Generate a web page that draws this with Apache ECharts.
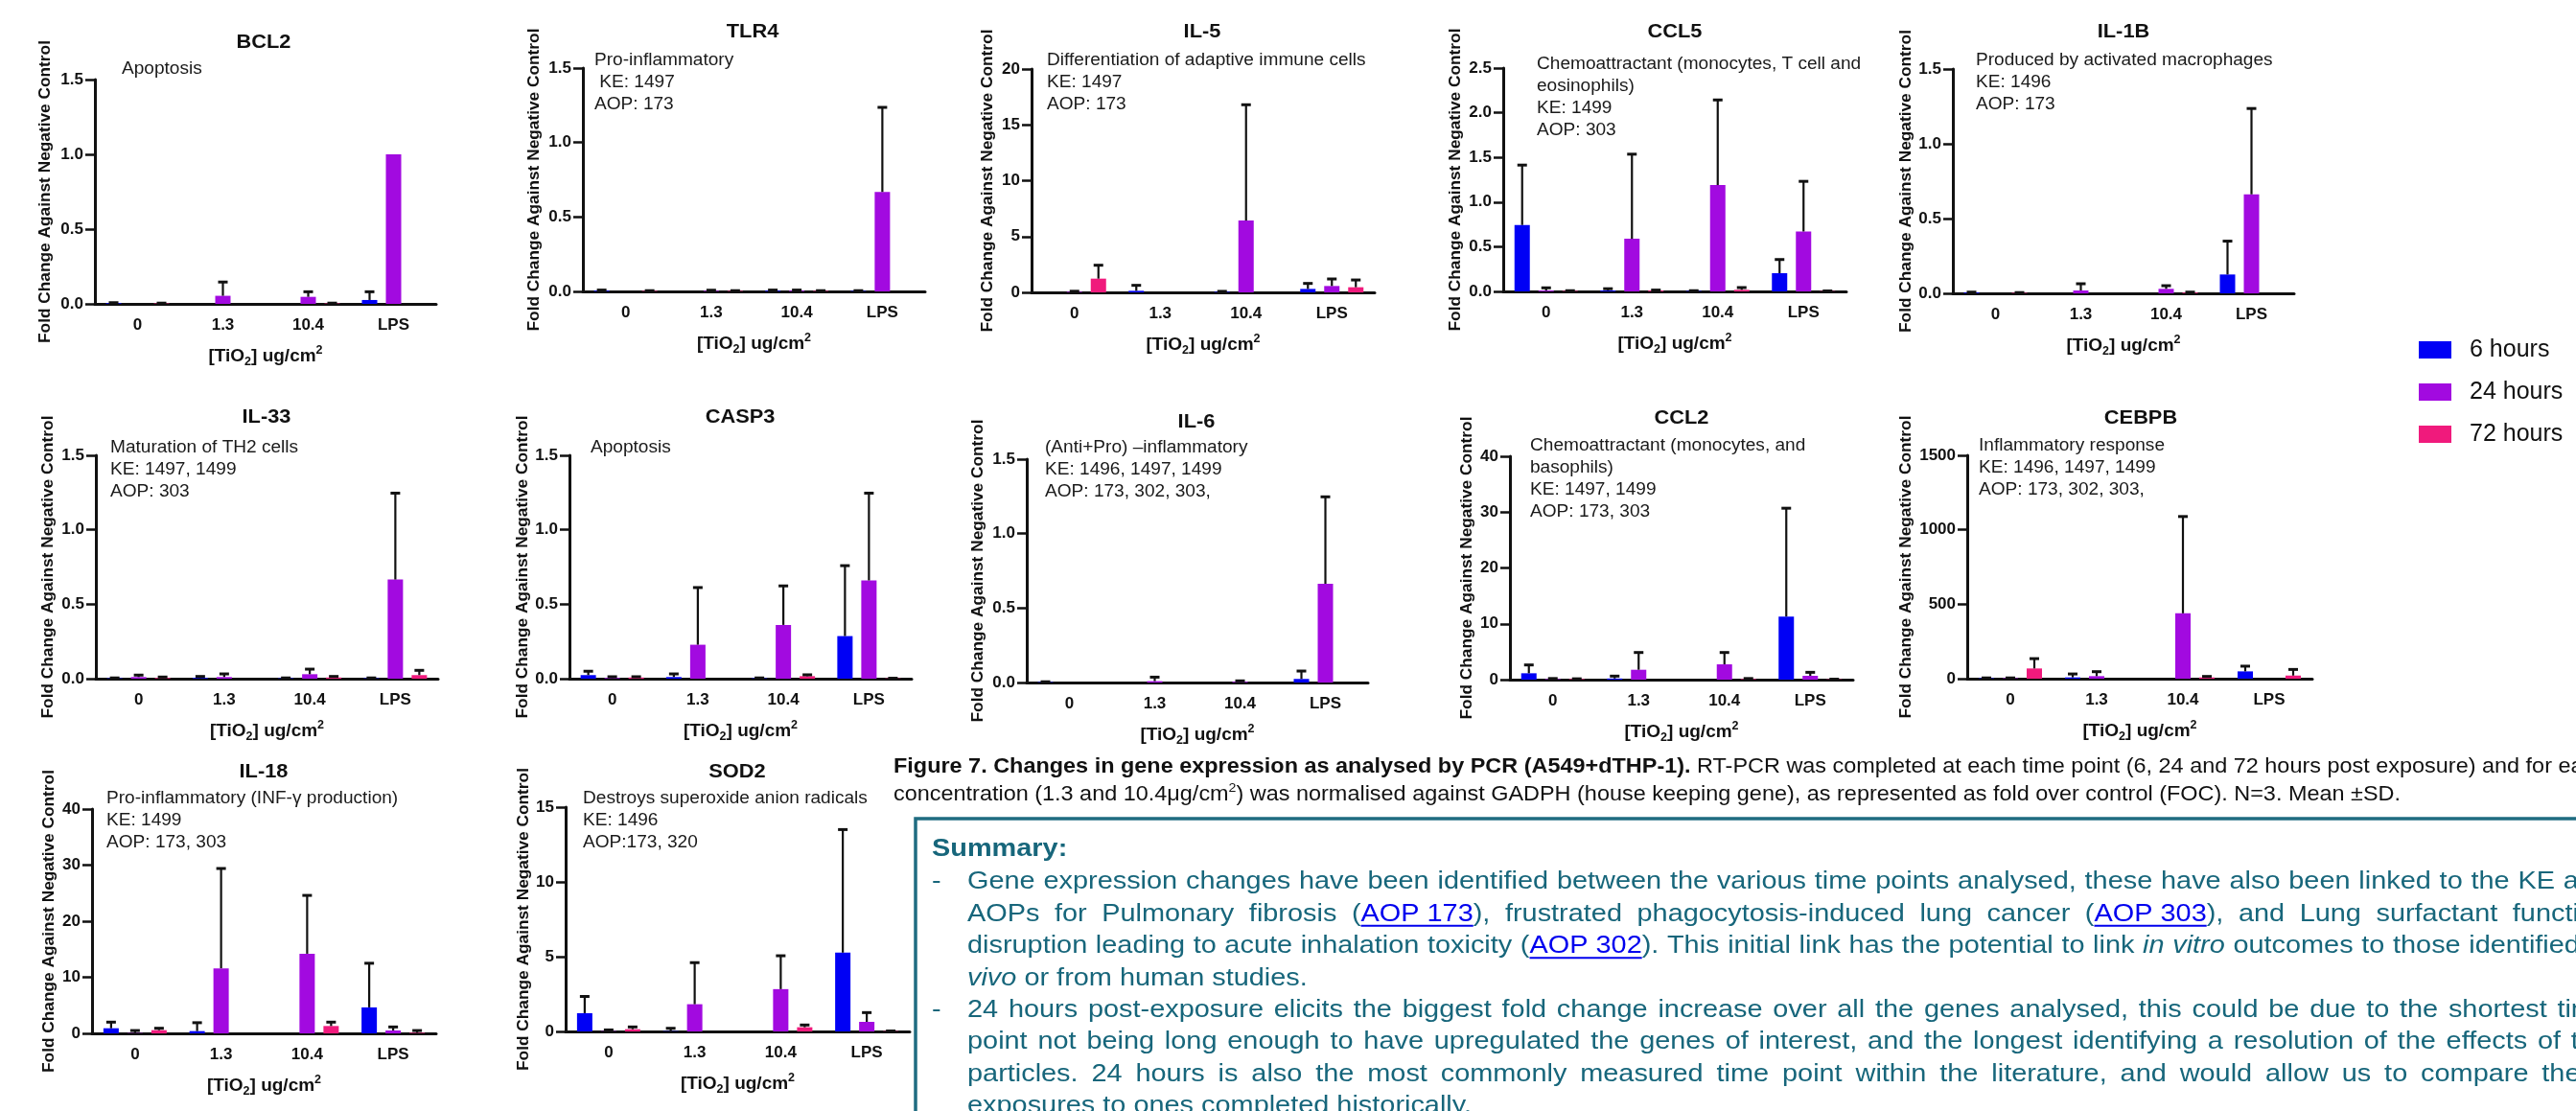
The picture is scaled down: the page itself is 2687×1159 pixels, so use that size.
<!DOCTYPE html>
<html><head><meta charset="utf-8">
<script src="https://cdn.jsdelivr.net/npm/echarts@6/dist/echarts.min.js"></script>
<style>html,body{margin:0;padding:0;background:#fff;} #c{width:2687px;height:1159px;}</style>
</head><body><div id="c"></div>
<script>
// ---------------- DATA ----------------
const categories = ['0', '1.3', '10.4', 'LPS'];
const timeNames = ['6 hours', '24 hours', '72 hours'];
const geneNames = ['BCL2','TLR4','IL-5','CCL5','IL-1B','IL-33','CASP3','IL-6','CCL2','CEBPB','IL-18','SOD2'];
const yMax = [1.5, 1.5, 20, 2.5, 1.5, 1.5, 1.5, 1.5, 40, 1500, 40, 15];
const yStep = [0.5, 0.5, 5, 0.5, 0.5, 0.5, 0.5, 0.5, 10, 500, 10, 5];
const yDecimals = [1, 1, 0, 1, 1, 1, 1, 1, 0, 0, 0, 0];
const yAxisTitle = 'Fold Change Against Negative Control';

const notes_BCL2 = ['Apoptosis'];
const notes_TLR4 = ['Pro-inflammatory', ' KE: 1497', 'AOP: 173'];
const notes_IL5 = ['Differentiation of adaptive immune cells', 'KE: 1497', 'AOP: 173'];
const notes_CCL5 = ['Chemoattractant (monocytes, T cell and', 'eosinophils)', 'KE: 1499', 'AOP: 303'];
const notes_IL1B = ['Produced by activated macrophages', 'KE: 1496', 'AOP: 173'];
const notes_IL33 = ['Maturation of TH2 cells', 'KE: 1497, 1499', 'AOP: 303'];
const notes_CASP3 = ['Apoptosis'];
const notes_IL6 = ['(Anti+Pro) \u2013inflammatory', 'KE: 1496, 1497, 1499', 'AOP: 173, 302, 303,'];
const notes_CCL2 = ['Chemoattractant (monocytes, and', 'basophils)', 'KE: 1497, 1499', 'AOP: 173, 303'];
const notes_CEBPB = ['Inflammatory response', 'KE: 1496, 1497, 1499', 'AOP: 173, 302, 303,'];
const notes_IL18 = ['Pro-inflammatory (INF-\u03b3 production)', 'KE: 1499', 'AOP: 173, 303'];
const notes_SOD2 = ['Destroys superoxide anion radicals', 'KE: 1496', 'AOP:173, 320'];

const bcl2_6h = [0.005, 0, 0, 0.026];      const bcl2_6h_sd = [0.003, 0, 0, 0.055];
const bcl2_24h = [0, 0.054, 0.047, 1.0];   const bcl2_24h_sd = [0, 0.092, 0.034, 0];
const bcl2_72h = [0.003, 0, 0.003, 0];     const bcl2_72h_sd = [0.002, 0, 0.002, 0];

const tlr4_6h = [0.005, 0, 0.005, 0.003];  const tlr4_6h_sd = [0.004, 0, 0.004, 0.002];
const tlr4_24h = [0, 0.004, 0.005, 0.668]; const tlr4_24h_sd = [0, 0.004, 0.004, 0.568];
const tlr4_72h = [0.003, 0.003, 0.003, 0]; const tlr4_72h_sd = [0.002, 0.002, 0.002, 0];

const il5_6h = [0, 0.14, 0.05, 0.31];      const il5_6h_sd = [0, 0.49, 0.04, 0.49];
const il5_24h = [0.05, 0, 6.43, 0.57];     const il5_24h_sd = [0.05, 0, 10.37, 0.63];
const il5_72h = [1.23, 0, 0, 0.46];        const il5_72h_sd = [1.2, 0, 0, 0.65];

const ccl5_6h = [0.743, 0.01, 0.005, 0.204]; const ccl5_6h_sd = [0.671, 0.02, 0.003, 0.153];
const ccl5_24h = [0.01, 0.589, 1.19, 0.671]; const ccl5_24h_sd = [0.03, 0.947, 0.953, 0.561];
const ccl5_72h = [0.005, 0.01, 0.018, 0.003]; const ccl5_72h_sd = [0.003, 0.005, 0.025, 0.002];

const il1b_6h = [0.005, 0, 0, 0.126];      const il1b_6h_sd = [0.003, 0, 0, 0.223];
const il1b_24h = [0, 0.019, 0.03, 0.662];  const il1b_24h_sd = [0, 0.045, 0.021, 0.574];
const il1b_72h = [0.003, 0, 0.005, 0];     const il1b_72h_sd = [0.002, 0, 0.003, 0];

const il33_6h = [0.003, 0.005, 0.003, 0.003]; const il33_6h_sd = [0.002, 0.01, 0.002, 0.002];
const il33_24h = [0.011, 0.011, 0.03, 0.666]; const il33_24h_sd = [0.013, 0.021, 0.034, 0.58];
const il33_72h = [0.005, 0, 0.008, 0.024];    const il33_72h_sd = [0.006, 0, 0.007, 0.032];

const casp3_6h = [0.024, 0.011, 0.003, 0.286]; const casp3_6h_sd = [0.026, 0.021, 0.002, 0.473];
const casp3_24h = [0.005, 0.228, 0.361, 0.66]; const casp3_24h_sd = [0.008, 0.384, 0.262, 0.586];
const casp3_72h = [0.008, 0, 0.017, 0.002];    const casp3_72h_sd = [0.005, 0, 0.009, 0.001];

const il6_6h = [0.003, 0, 0, 0.024];       const il6_6h_sd = [0.002, 0, 0, 0.053];
const il6_24h = [0, 0.009, 0.005, 0.663];  const il6_24h_sd = [0, 0.027, 0.006, 0.584];
const il6_72h = [0, 0, 0, 0];              const il6_72h_sd = [0, 0, 0, 0];

const ccl2_6h = [1.14, 0.2, 0, 11.3];      const ccl2_6h_sd = [1.49, 0.43, 0, 19.4];
const ccl2_24h = [0.1, 1.77, 2.74, 0.69];  const ccl2_24h_sd = [0.1, 3.09, 2.12, 0.62];
const ccl2_72h = [0.1, 0, 0.1, 0.05];      const ccl2_72h_sd = [0.05, 0, 0.1, 0.03];

const cebpb_6h = [3, 8.6, 0, 49];          const cebpb_6h_sd = [2, 23, 0, 35];
const cebpb_24h = [3, 17, 439, 0];         const cebpb_24h_sd = [2, 30, 650, 0];
const cebpb_72h = [68.6, 0, 8.6, 21];      const cebpb_72h_sd = [66, 0, 6.4, 41];

const il18_6h = [0.91, 0.4, 0, 4.63];      const il18_6h_sd = [1.09, 1.5, 0, 7.87];
const il18_24h = [0.05, 11.6, 14.2, 0.51]; const il18_24h_sd = [0.45, 17.8, 10.4, 0.63];
const il18_72h = [0.57, 0, 1.31, 0.1];     const il18_72h_sd = [0.34, 0, 0.69, 0.4];

const sod2_6h = [1.22, 0.02, 0, 5.27];     const sod2_6h_sd = [1.12, 0.19, 0, 8.23];
const sod2_24h = [0.02, 1.82, 2.83, 0.64]; const sod2_24h_sd = [0.08, 2.78, 2.23, 0.62];
const sod2_72h = [0.15, 0, 0.28, 0.02];    const sod2_72h_sd = [0.15, 0, 0.15, 0.01];

const captionBold = 'Figure 7. Changes in gene expression as analysed by PCR (A549+dTHP-1).';
const captionRest1 = ' RT-PCR was completed at each time point (6, 24 and 72 hours post exposure) and for each';
const captionLine2a = 'concentration (1.3 and 10.4\u03bcg/cm';
const captionLine2b = ') was normalised against GADPH (house keeping gene), as represented as fold over control (FOC). N=3. Mean \u00b1SD.';

const summaryTitle = 'Summary:';
const summaryLines = [
  'Gene expression changes have been identified between the various time points analysed, these have also been linked to the KE and',
  'AOPs for Pulmonary fibrosis ([AOP 173]), frustrated phagocytosis-induced lung cancer ([AOP 303]), and Lung surfactant function',
  'disruption leading to acute inhalation toxicity ([AOP 302]). This initial link has the potential to link *in vitro* outcomes to those identified *in*',
  '*vivo* or from human studies.',
  '24 hours post-exposure elicits the biggest fold change increase over all the genes analysed, this could be due to the shortest time',
  'point not being long enough to have upregulated the genes of interest, and the longest identifying a resolution of the effects of the',
  'particles. 24 hours is also the most commonly measured time point within the literature, and would allow us to compare these',
  'exposures to ones completed historically.'
];
const summaryBullet = [true, false, false, false, true, false, false, false];
const summaryJustify = [true, true, true, false, true, true, true, false];

// ---------------- TABLES BUILT FROM DATA ----------------
const geneNotes = [notes_BCL2, notes_TLR4, notes_IL5, notes_CCL5, notes_IL1B, notes_IL33, notes_CASP3, notes_IL6, notes_CCL2, notes_CEBPB, notes_IL18, notes_SOD2];
const geneSeries = [
  [[bcl2_6h, bcl2_6h_sd], [bcl2_24h, bcl2_24h_sd], [bcl2_72h, bcl2_72h_sd]],
  [[tlr4_6h, tlr4_6h_sd], [tlr4_24h, tlr4_24h_sd], [tlr4_72h, tlr4_72h_sd]],
  [[il5_6h, il5_6h_sd], [il5_24h, il5_24h_sd], [il5_72h, il5_72h_sd]],
  [[ccl5_6h, ccl5_6h_sd], [ccl5_24h, ccl5_24h_sd], [ccl5_72h, ccl5_72h_sd]],
  [[il1b_6h, il1b_6h_sd], [il1b_24h, il1b_24h_sd], [il1b_72h, il1b_72h_sd]],
  [[il33_6h, il33_6h_sd], [il33_24h, il33_24h_sd], [il33_72h, il33_72h_sd]],
  [[casp3_6h, casp3_6h_sd], [casp3_24h, casp3_24h_sd], [casp3_72h, casp3_72h_sd]],
  [[il6_6h, il6_6h_sd], [il6_24h, il6_24h_sd], [il6_72h, il6_72h_sd]],
  [[ccl2_6h, ccl2_6h_sd], [ccl2_24h, ccl2_24h_sd], [ccl2_72h, ccl2_72h_sd]],
  [[cebpb_6h, cebpb_6h_sd], [cebpb_24h, cebpb_24h_sd], [cebpb_72h, cebpb_72h_sd]],
  [[il18_6h, il18_6h_sd], [il18_24h, il18_24h_sd], [il18_72h, il18_72h_sd]],
  [[sod2_6h, sod2_6h_sd], [sod2_24h, sod2_24h_sd], [sod2_72h, sod2_72h_sd]]
];

// ---------------- LAYOUT / STYLE ----------------
// [left, top, right, bottom, titleX, titleY, noteX, noteY, yNameX]
const LAYOUT = [
  [99, 83, 455, 317, 275, 44, 127, 72, 47],
  [608, 71, 965, 304, 785, 33, 620, 63, 557],
  [1076, 72, 1434, 305, 1254, 33, 1092, 63, 1030],
  [1568, 71, 1926, 304, 1747, 33, 1603, 67, 1518],
  [2037, 72, 2393, 306, 2215, 33, 2061, 63, 1988],
  [100, 475, 457, 708, 278, 435, 115, 467, 50],
  [594, 475, 951, 708, 772, 435, 616, 467, 545],
  [1071, 479, 1427, 712, 1248, 440, 1090, 467, 1020],
  [1575, 476, 1933, 709, 1754, 436, 1596, 465, 1530],
  [2052, 475, 2412, 708, 2233, 436, 2064, 465, 1988],
  [96, 844, 455, 1078, 275, 805, 111, 833, 51],
  [590, 842, 949, 1076, 769, 805, 608, 833, 546]
];
const COLORS = ['#0000f5', '#a20ae0', '#f01a7c'];
const FONT = 'Liberation Sans';
const INK = '#111';
const SX = 1.09;            // horizontal text stretch seen in the reference
const BAR_W = 16, BAR_GAP = 9, BAR_STEP = BAR_W + BAR_GAP;

const grids = [], xAxes = [], yAxes = [], series = [], graphics = [];

LAYOUT.forEach((L, gi) => {
  grids.push({ left: L[0], top: L[1], width: L[2] - L[0], height: L[3] - L[1], containLabel: false });
  xAxes.push({
    type: 'category', gridIndex: gi, data: categories,
    axisLine: { lineStyle: { color: INK, width: 3 } },
    axisTick: { alignWithLabel: true, length: 11, lineStyle: { color: INK, width: 2.5 } },
    axisLabel: { fontSize: 17, fontWeight: 'bold', color: INK, margin: 14, fontFamily: FONT },
    name: '{a|[TiO}{s|2}{a|] ug/cm}{p|2}', nameLocation: 'middle', nameGap: 42,
    nameTextStyle: {
      fontFamily: FONT, fontSize: 19, fontWeight: 'bold', color: INK,
      rich: {
        a: { fontFamily: FONT, fontSize: 19, fontWeight: 'bold', color: INK, lineHeight: 25, verticalAlign: 'middle' },
        s: { fontFamily: FONT, fontSize: 12.5, fontWeight: 'bold', color: INK, lineHeight: 12, verticalAlign: 'bottom' },
        p: { fontFamily: FONT, fontSize: 12.5, fontWeight: 'bold', color: INK, lineHeight: 12, verticalAlign: 'top' }
      }
    }
  });
  const dec = yDecimals[gi];
  yAxes.push({
    type: 'value', gridIndex: gi, min: 0, max: yMax[gi], interval: yStep[gi],
    splitLine: { show: false },
    axisLine: { show: true, lineStyle: { color: INK, width: 3 } },
    axisTick: { show: true, length: 10, lineStyle: { color: INK, width: 2.5 } },
    axisLabel: { fontSize: 17, fontWeight: 'bold', color: INK, margin: 12, fontFamily: FONT,
      formatter: v => v.toFixed(dec) },
    name: yAxisTitle, nameLocation: 'middle', nameRotate: 90,
    nameGap: L[0] - L[8] - 9,
    nameTextStyle: { fontFamily: FONT, fontSize: 17.3, fontWeight: 'bold', color: INK }
  });
  geneSeries[gi].forEach((pair, k) => {
    series.push({
      type: 'bar', name: timeNames[k], xAxisIndex: gi, yAxisIndex: gi,
      data: pair[0], barWidth: BAR_W, barGap: (BAR_GAP / BAR_W * 100) + '%',
      itemStyle: { color: COLORS[k] }, silent: true
    });
  });
  geneSeries[gi].forEach((pair, k) => {
    series.push({
      type: 'custom', name: 'err', xAxisIndex: gi, yAxisIndex: gi, z: 5, silent: true,
      data: categories.map((c, i) => [i, pair[0][i], pair[1][i]]),
      encode: { x: 0, y: 1 },
      renderItem: (params, api) => {
        const sd = api.value(2);
        if (!(sd > 0)) return null;
        const m = api.value(1);
        const p0 = api.coord([api.value(0), m]);
        const p1 = api.coord([api.value(0), m + sd]);
        const x = p0[0] + (k - 1) * BAR_STEP;
        return { type: 'group', children: [
          { type: 'line', shape: { x1: x, y1: p0[1], x2: x, y2: p1[1] }, style: { stroke: INK, lineWidth: 2.2 } },
          { type: 'line', shape: { x1: x - 5, y1: p1[1], x2: x + 5, y2: p1[1] }, style: { stroke: INK, lineWidth: 3 } }
        ] };
      }
    });
  });
  graphics.push({ type: 'text', x: L[4], y: L[5], scaleX: SX,
    style: { text: geneNames[gi], fontSize: 20, fontWeight: 'bold', fontFamily: FONT, fill: INK, align: 'center', verticalAlign: 'middle' } });
  graphics.push({ type: 'text', x: L[6], y: L[7] - 11.5, scaleX: SX,
    style: { text: geneNotes[gi].join('\n'), fontSize: 17.5, lineHeight: 23, fontFamily: FONT, fill: '#1a1a1a', align: 'left', verticalAlign: 'top' } });
});

// ---------- caption ----------
const CAP_FS = 21.5;
graphics.push({ type: 'group', x: 932, y: 0, scaleX: SX, children: [
  { type: 'text', x: 0, y: 800, style: {
    text: '{b|' + captionBold + '}{r|' + captionRest1 + '}', verticalAlign: 'middle', align: 'left',
    rich: { b: { fontFamily: FONT, fontSize: CAP_FS, fontWeight: 'bold', fill: INK },
            r: { fontFamily: FONT, fontSize: CAP_FS, fill: INK } } } },
  { type: 'text', x: 0, y: 829, style: {
    text: '{r|' + captionLine2a + '}{p|2}{r|' + captionLine2b + '}', verticalAlign: 'middle', align: 'left',
    rich: { r: { fontFamily: FONT, fontSize: CAP_FS, fill: INK, lineHeight: 26, verticalAlign: 'middle' },
            p: { fontFamily: FONT, fontSize: 13, fill: INK, lineHeight: 13, verticalAlign: 'top' } } } }
] });

// ---------- summary box ----------
const TEAL = '#17667b', LINK = '#0000ee';
const SUM_FS = 26.5, SUM_LEFT = 1009, SUM_RIGHT = 2722, SUM_Y0 = 920, SUM_DY = 33.4;
graphics.push({ type: 'rect', shape: { x: 955, y: 854, width: 1900, height: 500 },
  style: { fill: 'none', stroke: '#1f6c81', lineWidth: 3.5 } });
graphics.push({ type: 'text', x: 972, y: 886, scaleX: SX,
  style: { text: summaryTitle, fontFamily: FONT, fontSize: SUM_FS, fontWeight: 'bold', fill: TEAL, verticalAlign: 'middle' } });

const mctx = document.createElement('canvas').getContext('2d');
function mw(text, type, size) {
  mctx.font = (type === 'it' ? 'italic ' : '') + size + 'px "' + FONT + '"';
  return mctx.measureText(text).width;
}
function parseLine(str) {
  const parts = str.split(/(\[[^\]]+\]|\*[^*]+\*)/).filter(s => s.length);
  const words = []; let cur = [];
  parts.forEach(p => {
    let type = 'n', txt = p;
    if (p[0] === '[') { type = 'link'; txt = p.slice(1, -1); }
    else if (p[0] === '*') { type = 'it'; txt = p.slice(1, -1); }
    if (type === 'link') { cur.push({ t: txt, type }); return; }
    txt.split(' ').forEach((pc, i) => {
      if (i > 0) { if (cur.length) words.push(cur); cur = []; }
      if (pc) cur.push({ t: pc, type });
    });
  });
  if (cur.length) words.push(cur);
  return words;
}
const RICH = {
  n: { fontFamily: FONT, fontSize: SUM_FS, fill: TEAL },
  it: { fontFamily: FONT, fontSize: SUM_FS, fill: TEAL, fontStyle: 'italic' },
  link: { fontFamily: FONT, fontSize: SUM_FS, fill: LINK }
};
summaryLines.forEach((line, li) => {
  const y = SUM_Y0 + li * SUM_DY;
  if (summaryBullet[li]) {
    graphics.push({ type: 'text', x: 972, y: y, scaleX: SX,
      style: { text: '-', fontFamily: FONT, fontSize: SUM_FS, fill: TEAL, verticalAlign: 'middle' } });
  }
  const words = parseLine(line);
  const widths = words.map(w => w.reduce((s, seg) => s + mw(seg.t, seg.type, SUM_FS), 0));
  const total = widths.reduce((a, b) => a + b, 0);
  const avail = (SUM_RIGHT - SUM_LEFT) / SX;
  let gap = mw(' ', 'n', SUM_FS);
  if (summaryJustify[li] && words.length > 1) gap = Math.max(gap * 0.8, (avail - total) / (words.length - 1));
  let x = 0;
  const children = [];
  words.forEach((w, wi) => {
    children.push({ type: 'text', x: x, y: y, style: {
      text: w.map(s => '{' + s.type + '|' + s.t + '}').join(''), rich: RICH,
      fontFamily: FONT, fontSize: SUM_FS, fill: TEAL, align: 'left', verticalAlign: 'middle' } });
    let off = 0;
    w.forEach(s => {
      const sw = mw(s.t, s.type, SUM_FS);
      if (s.type === 'link') {
        children.push({ type: 'line', shape: { x1: x + off, y1: y + SUM_FS * 0.47, x2: x + off + sw, y2: y + SUM_FS * 0.47 },
          style: { stroke: LINK, lineWidth: 2 } });
      }
      off += sw;
    });
    x += widths[wi] + gap;
  });
  graphics.push({ type: 'group', x: SUM_LEFT, y: 0, scaleX: SX, children: children });
});

const option = {
  animation: false,
  backgroundColor: '#ffffff',
  textStyle: { fontFamily: FONT },
  grid: grids, xAxis: xAxes, yAxis: yAxes, series: series,
  legend: {
    orient: 'vertical', left: 2518, top: 347, itemWidth: 34, itemHeight: 18, itemGap: 18,
    selectedMode: false,
    textStyle: { fontFamily: FONT, fontSize: 25, color: INK, lineHeight: 26, padding: [0, 0, 0, 14] },
    data: timeNames.map((n) => ({ name: n, icon: 'rect' }))
  },
  graphic: { elements: graphics }
};
const chart = echarts.init(document.getElementById('c'), null, { renderer: 'canvas', width: 2687, height: 1159 });
chart.setOption(option);
</script></body></html>
